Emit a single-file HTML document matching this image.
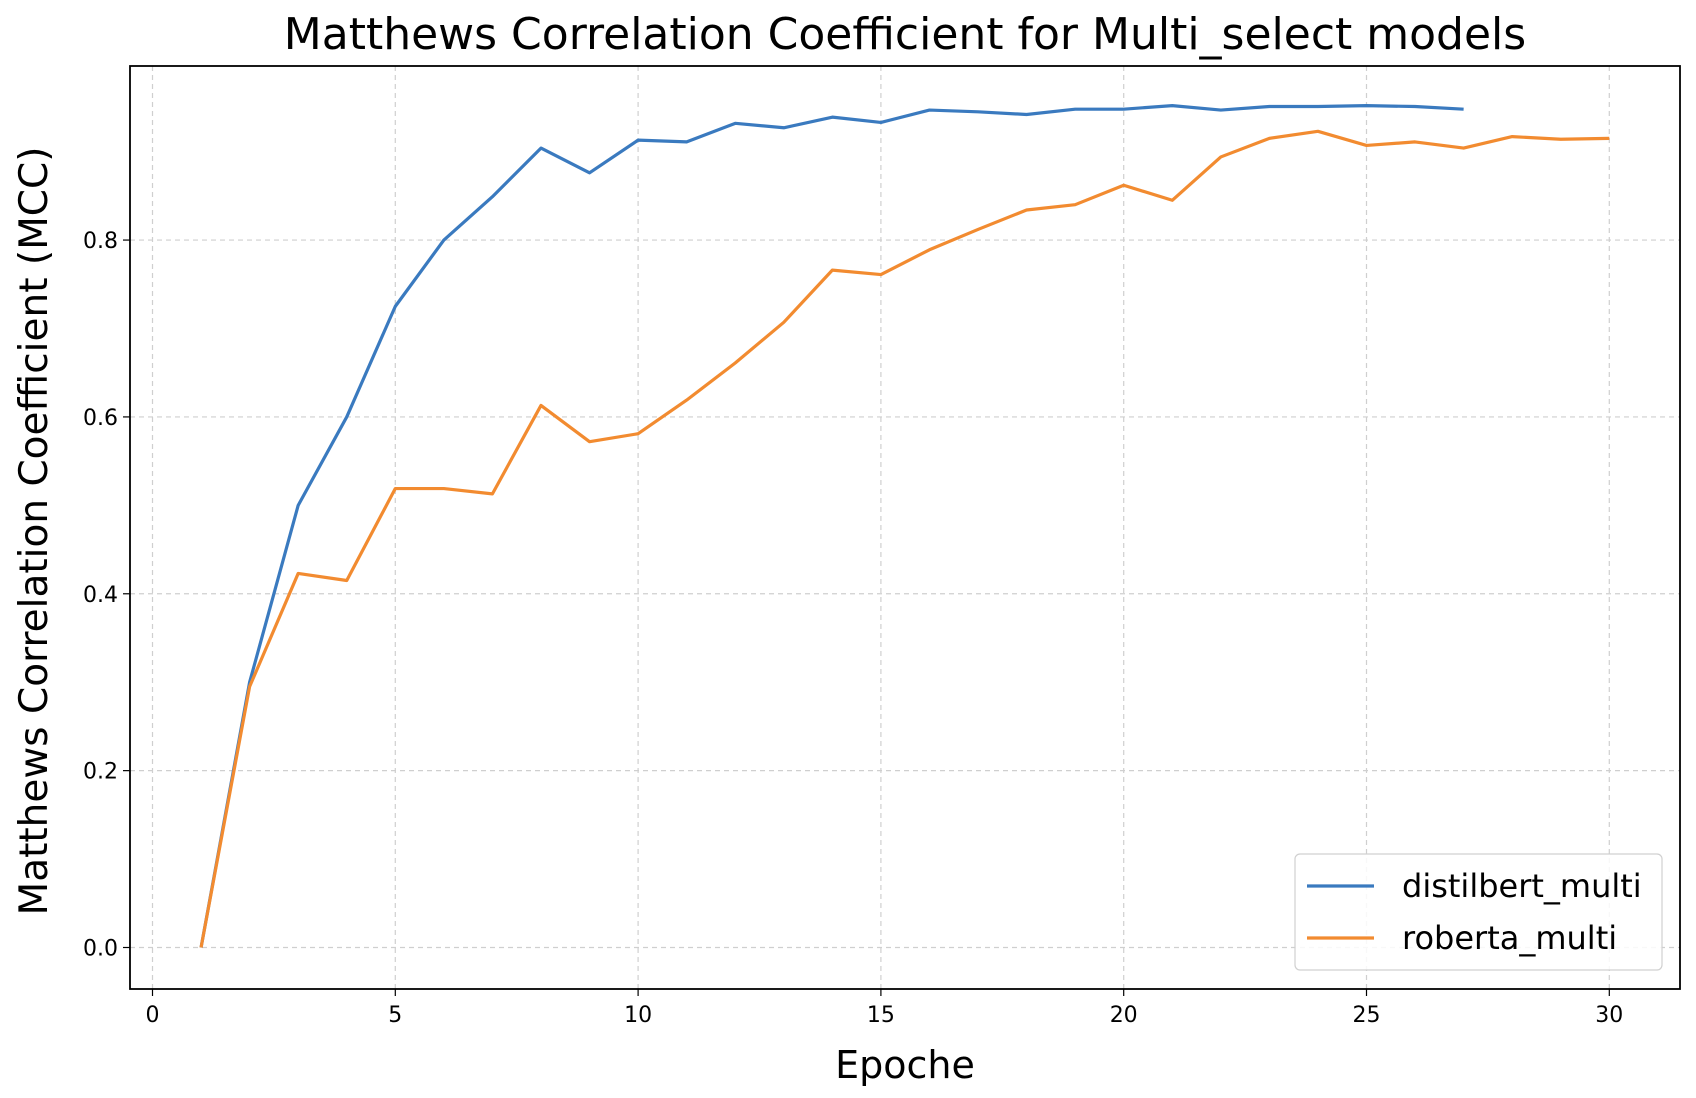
<!DOCTYPE html>
<html><head><meta charset="utf-8"><style>
html,body{margin:0;padding:0;background:#fff;}
svg{display:block;font-family:"DejaVu Sans","Liberation Sans",sans-serif;}
</style></head><body>
<svg id="chart" width="1696" height="1098" viewBox="0 0 1696 1098"></svg>
<script>
const epochsD = [1,2,3,4,5,6,7,8,9,10,11,12,13,14,15,16,17,18,19,20,21,22,23,24,25,26,27];
const distilbert = [0,0.30,0.50,0.60,0.725,0.80,0.849,0.904,0.876,0.913,0.911,0.932,0.927,0.939,0.933,0.947,0.945,0.942,0.948,0.948,0.952,0.947,0.951,0.951,0.952,0.951,0.948];
const epochsR = [1,2,3,4,5,6,7,8,9,10,11,12,13,14,15,16,17,18,19,20,21,22,23,24,25,26,27,28,29,30];
const roberta = [0,0.295,0.423,0.415,0.519,0.519,0.513,0.613,0.572,0.581,0.619,0.661,0.707,0.766,0.761,0.789,0.812,0.834,0.840,0.862,0.845,0.894,0.915,0.923,0.907,0.911,0.904,0.917,0.914,0.915];
const xTicks = [0,5,10,15,20,25,30];
const yTicks = [0,0.2,0.4,0.6,0.8];
const yTickLabels = ["0.0","0.2","0.4","0.6","0.8"];

const NS="http://www.w3.org/2000/svg";
const svg=document.getElementById('chart');
const L=130,R=1680,T=66,B=989;
const X=v=>152.5+v*48.56;
const Y=v=>947.5-v*884.3;
function mk(tag,attrs,parent){const e=document.createElementNS(NS,tag);for(const k in attrs)e.setAttribute(k,attrs[k]);(parent||svg).appendChild(e);return e;}

const grid=mk('g',{});


xTicks.forEach(t=>{
  const l=mk('line',{x1:X(t),x2:X(t),y1:T,y2:B,stroke:'#cfcfcf','stroke-width':1.2,'stroke-dasharray':'5,4'},grid);
  
  
  const tk=mk('line',{x1:X(t),x2:X(t),y1:B,y2:B+7,stroke:'#000','stroke-width':1.2});
  
  
  const tx=mk('text',{x:X(t),y:B+33,'text-anchor':'middle','font-size':22,fill:'#000'});
  tx.textContent=t;
  
  
});
yTicks.forEach((t,i)=>{
  const l=mk('line',{x1:L,x2:R,y1:Y(t),y2:Y(t),stroke:'#cfcfcf','stroke-width':1.2,'stroke-dasharray':'5,4'},grid);
  
  
  const tk=mk('line',{x1:L-7,x2:L,y1:Y(t),y2:Y(t),stroke:'#000','stroke-width':1.2});
  
  
  const tx=mk('text',{x:L-12,y:Y(t)+8,'text-anchor':'end','font-size':22,fill:'#000'});
  tx.textContent=yTickLabels[i];
  
  
});

function line(xs,ys,color,name){
  const p=mk('polyline',{points:xs.map((x,i)=>X(x)+','+Y(ys[i])).join(' '),fill:'none',stroke:color,'stroke-width':3.2,'stroke-linejoin':'round'});
  
  
}
line(epochsD,distilbert,'#3a7abf','distilbert-line');
line(epochsR,roberta,'#f28b30','roberta-line');

const frame=mk('rect',{x:L,y:T,width:R-L,height:B-T,fill:'none',stroke:'#000','stroke-width':1.8});



const title=mk('text',{x:905,y:49,'text-anchor':'middle','font-size':44,fill:'#000'});
title.textContent='Matthews Correlation Coefficient for Multi_select models';


const xl=mk('text',{x:905,y:1078,'text-anchor':'middle','font-size':38,fill:'#000'});
xl.textContent='Epoche';


const yl=mk('text',{x:0,y:0,'text-anchor':'middle','font-size':39,fill:'#000',transform:'translate(47,531) rotate(-90)'});
yl.textContent='Matthews Correlation Coefficient (MCC)';



const lg=mk('g',{});


mk('rect',{x:1295,y:854,width:367,height:116,rx:5,fill:'#fff',stroke:'#d0d0d0','stroke-width':1.2,'fill-opacity':0.85},lg);
[['distilbert_multi','#3a7abf',886],['roberta_multi','#f28b30',938]].forEach(([n,c,y])=>{
  const e=mk('g',{},lg);
  
  
  mk('line',{x1:1307,x2:1374,y1:y,y2:y,stroke:c,'stroke-width':3.2},e);
  const t=mk('text',{x:1402,y:y+11,'font-size':32,fill:'#000'},e);
  t.textContent=n;
});
</script>
</body></html>
